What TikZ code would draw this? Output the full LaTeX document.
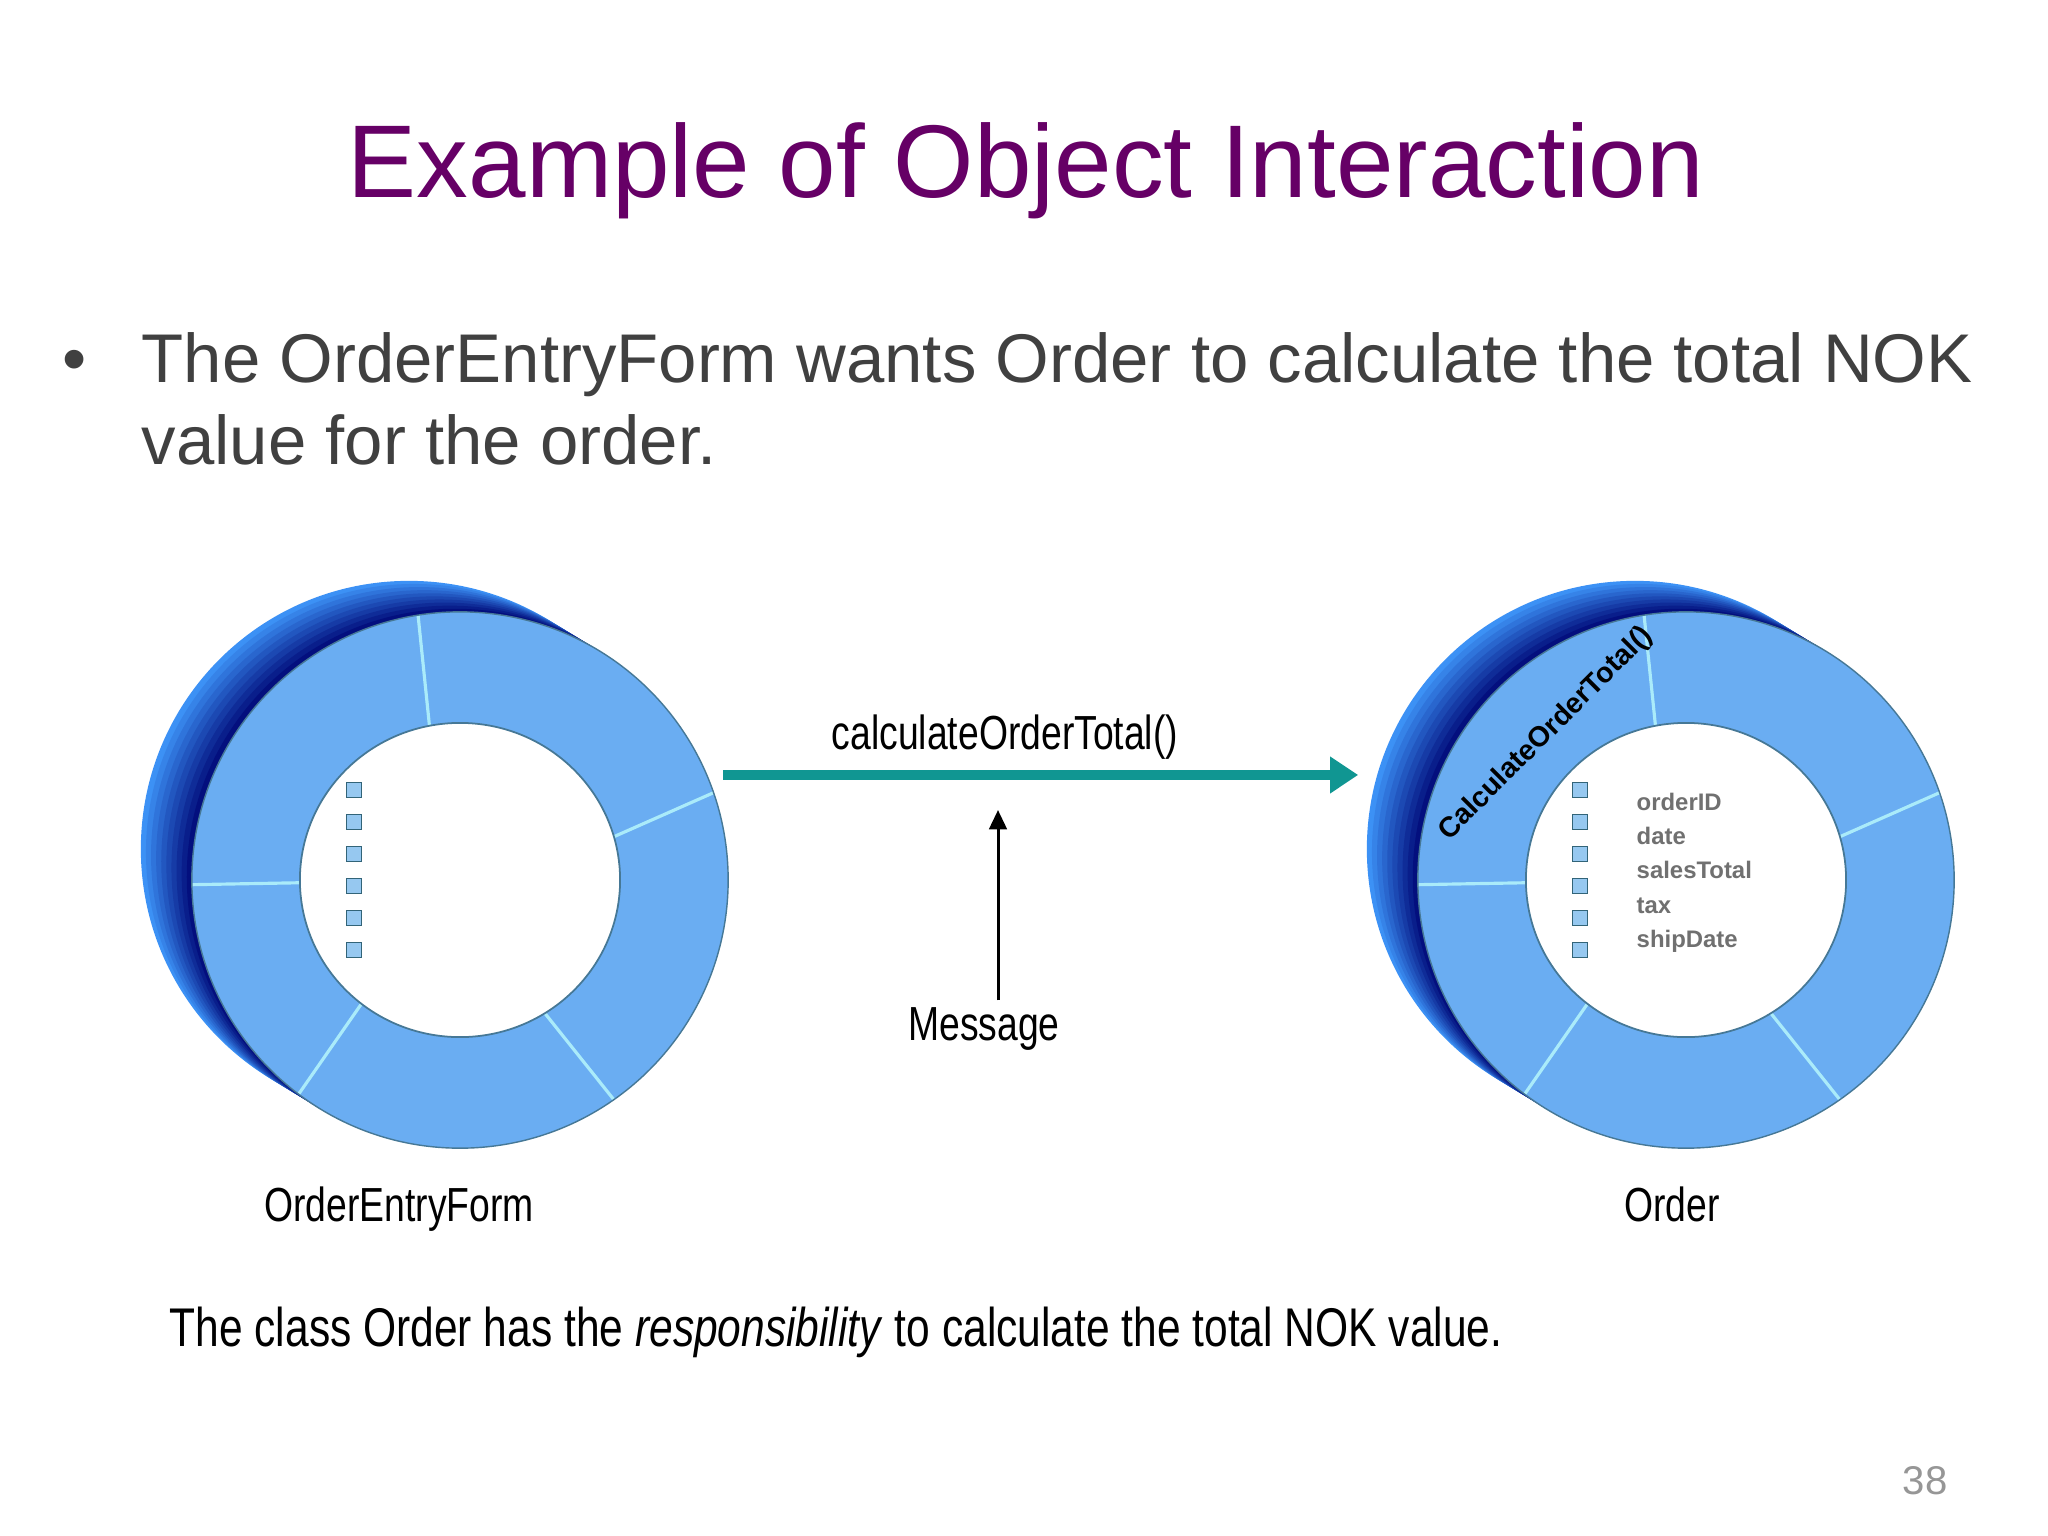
\documentclass[tikz,border=0pt]{standalone}
\usepackage{fontspec}
\setmainfont{Liberation Sans}
\newfontfamily\narrowsans{Liberation Sans}[FakeStretch=0.78]
\usetikzlibrary{positioning,calc,arrows.meta}

\definecolor{titlepurple}{RGB}{102,0,102}
\definecolor{bodygrey}{RGB}{64,64,64}
\definecolor{ringblue}{RGB}{106,173,242}
\definecolor{ringedge}{RGB}{70,120,150}
\definecolor{ringline}{RGB}{170,235,250}
\definecolor{shadowhi}{RGB}{60,145,245}
\definecolor{shadowlo}{RGB}{2,14,125}
\definecolor{boxfill}{RGB}{150,200,240}
\definecolor{boxedge}{RGB}{50,100,120}
\definecolor{callteal}{RGB}{16,150,146}
\definecolor{attrgrey}{RGB}{112,112,112}
\definecolor{pagegrey}{RGB}{150,150,150}

% one object drawn as a ring with a shaded back edge
\newcommand{\objectring}[1]{%
  \foreach \k [evaluate=\k as \t using 1-\k/10, evaluate=\k as \p using 11*\k] in {0,...,9}
    \fill[shadowlo!\p!shadowhi] ($(#1)+(-51*\t,-31*\t)$) circle [radius=2.68cm];
  \fill[ringblue] (#1) circle [radius=2.68cm];
  \foreach \ao/\ai in {99/101, 19/16, -55/-58, -127/-128, 181/181}
    \draw[ringline] ($(#1)+({160*cos(\ai)},{-157*sin(\ai)})$) -- ($(#1)+({268*cos(\ao)},{-268*sin(\ao)})$);
  \filldraw[fill=white, draw=ringedge, line width=0.5pt] (#1) ellipse [x radius=1.60cm, y radius=1.57cm];
  \draw[ringedge, line width=0.4pt] (#1) circle [radius=2.68cm];
  \foreach \i in {0,...,5}
    \node[attrbox] at ($(#1)+(-106,-90+32*\i)$) {};
}

\begin{document}
\begin{tikzpicture}[x=0.01cm,y=-0.01cm,
    ringnode/.style={circle, minimum size=5.36cm, inner sep=0pt},
    attrbox/.style={draw=boxedge, fill=boxfill, line width=0.4pt, minimum size=0.15cm, inner sep=0pt},
    ringline/.style={draw=ringline, line width=0.9pt},
    titletext/.style={inner sep=0pt, text=titlepurple, font=\fontsize{29.4}{35}\selectfont},
    bullettext/.style={inner sep=0pt, text=bodygrey, font=\fontsize{19.6}{23.3}\selectfont},
    labeltext/.style={inner sep=0pt, font=\narrowsans\fontsize{13.6}{16}\selectfont},
    sentencetext/.style={inner sep=0pt, font=\narrowsans\fontsize{15.5}{18}\selectfont},
    methodtext/.style={inner sep=0pt, font=\bfseries\fontsize{8.1}{10}\selectfont},
    attrtext/.style={inner sep=0pt, text=attrgrey, font=\bfseries\fontsize{6.8}{8}\selectfont},
    pagenum/.style={inner sep=0pt, text=pagegrey, font=\fontsize{11.4}{13}\selectfont},
    callarrow/.style={draw=callteal, line width=3pt, -{Triangle[length=8pt,width=10pt]}},
    notearrow/.style={draw=black, line width=0.85pt, -{Triangle[length=5.5pt,width=5pt]}}]
  \useasboundingbox (0,0) rectangle (2048,1536);
  \fill[white] (0,0) rectangle (2048,1536);

  \node[titletext, anchor=base] (title) at (1026,197) {Example of Object Interaction};
  \node[bullettext, anchor=base] (dot) at (75,382) {•};
  \node[bullettext, anchor=base west] (line1) at (141,382) {The OrderEntryForm wants Order to calculate the total NOK};
  \node[bullettext, anchor=base west] (line2) at ($(line1.base west)+(0,82)$) {value for the order.};

  \node[ringnode] (oef) at (460,880) {};
  \node[ringnode] (order) at (1686,880) {};
  \objectring{oef}
  \objectring{order}

  \node[methodtext, rotate=45] (method) at ($(order)+(-140,-146)$) {CalculateOrderTotal()};
  \foreach \a [count=\i from 0] in {orderID,date,salesTotal,tax,shipDate}
    \node[attrtext, anchor=base west] at ($(order)+(-50,-70+34.4*\i)$) {\a};

  \node[labeltext, anchor=base] (calllabel) at (1005,749) {calculateOrderTotal()};
  \draw[callarrow] ($(oef.23)+(16,0)$) -- ($(oef.23 -| order.west)+(-59,0)$);

  \node[labeltext, anchor=base] (msg) at (984,1040) {Message};
  \coordinate (msgtip) at (998,810);
  \draw[notearrow, shorten <=0.06cm] (msg.north -| msgtip) -- (msgtip);

  \node[labeltext, anchor=base] (oeflabel) at (399,1221) {OrderEntryForm};
  \node[labeltext, anchor=base] (orderlabel) at (1672,1221) {Order};

  \node[sentencetext, anchor=base west] (note) at (169,1346) {The class Order has the \textit{responsibility} to calculate the total NOK value.};
  \node[pagenum, anchor=base] (page) at (1925,1494) {38};
\end{tikzpicture}
\end{document}
